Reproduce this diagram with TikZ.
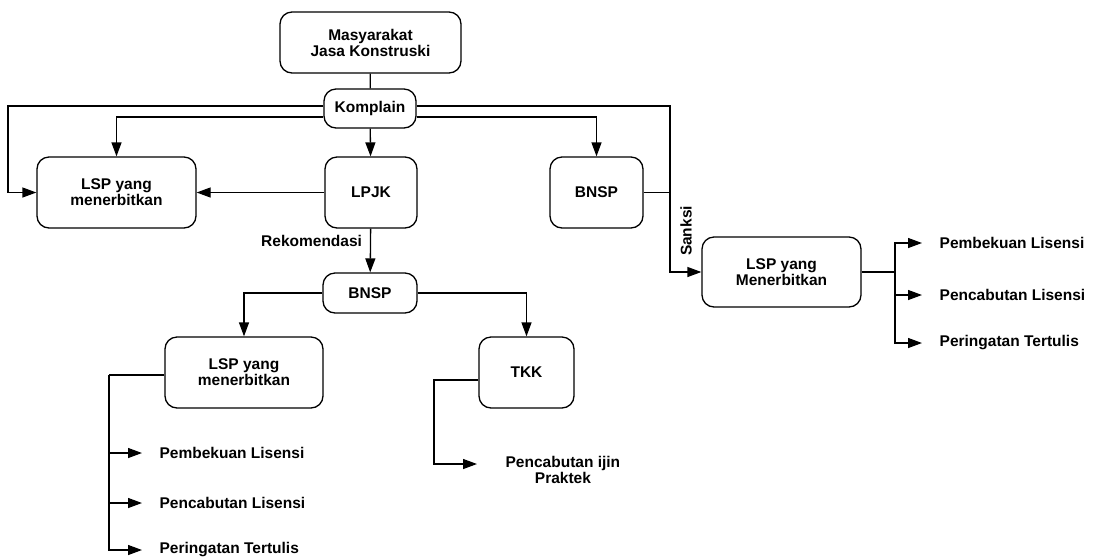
\documentclass[tikz,border=0pt]{standalone}
\usepackage{fontspec}
\setmainfont{Liberation Sans}
\usetikzlibrary{arrows.meta,positioning}

\begin{document}
\begin{tikzpicture}[x=1pt,y=-1pt,line width=1.3pt,
  >={Triangle[length=14pt,width=10pt]},
  font=\fontsize{15.5}{16}\selectfont\bfseries,
  box/.style={draw,rounded corners=12pt,align=center,inner sep=0pt},
  result/.style={anchor=west,inner xsep=17pt,inner ysep=0pt}]
  \useasboundingbox (0,0) rectangle (1097,558);
  \node[box,minimum width=181pt,minimum height=61pt] (mjk) at (370.5,42.5) {Masyarakat\\Jasa Konstruski};
  \node[box,minimum width=92pt,minimum height=39pt] (kom) at (370,108.5) {Komplain};
  \node[box,minimum width=159pt,minimum height=71pt] (lsp1) at (116.5,192.5) {LSP yang\\menerbitkan};
  \node[box,minimum width=92pt,minimum height=71pt] (lpjk) at (371,192.5) {LPJK};
  \node[box,minimum width=93pt,minimum height=71pt] (bnsp1) at (596.5,192.5) {BNSP};
  \node[box,minimum width=94pt,minimum height=40pt] (bnsp2) at (370,293) {BNSP};
  \node[box,minimum width=158pt,minimum height=71pt] (lsp3) at (244,372.5) {LSP yang\\menerbitkan};
  \node[box,minimum width=95pt,minimum height=71pt] (tkk) at (526.5,372.5) {TKK};
  \node[box,minimum width=159pt,minimum height=70pt] (lsp2) at (781.5,272) {LSP yang\\Menerbitkan};
  % labels
  \node[anchor=east] (rek) at (366,241) {Rekomendasi};
  \node[rotate=90] (sanksi) at (686,231) {Sanksi};
  \node[result] (pr1) at (922,243) {Pembekuan Lisensi};
  \node[result] (pr2) at (922,295) {Pencabutan Lisensi};
  \node[result] (pr3) at (922,343) {Peringatan Tertulis};
  \node[result] (bl1) at (142,453) {Pembekuan Lisensi};
  \node[result] (bl2) at (142,503) {Pencabutan Lisensi};
  \node[result] (bl3) at (142,550) {Peringatan Tertulis};
  \node[result,align=center,inner xsep=28pt] (ijin) at (477,470) {Pencabutan ijin\\Praktek};
  \coordinate (kl) at (8,192.5);
  \coordinate (sk) at (670,272);
  \coordinate (rb) at (895,272);
  \coordinate (lb) at (109,375);
  \coordinate (tk) at (434,464);
  % komplain
  \draw (mjk) -- (kom);
  \draw [->] ([yshift=2.5pt]kom.west) -| (kl) -- (lsp1.west);
  \draw [->] ([yshift=-8.5pt]kom.west) -| (lsp1.north);
  \draw [->] (kom) -- (lpjk);
  \draw [->] ([yshift=-8.5pt]kom.east) -| (bnsp1.north);
  \draw [->] ([yshift=2.5pt]kom.east) -| (sk) -- (lsp2.west);
  \draw (bnsp1.east) -- (bnsp1.east -| sk);
  \draw [->] (lpjk) -- (lsp1);
  \draw [->] (lpjk) -- (bnsp2);
  \draw [->] (bnsp2.west) -| (lsp3.north);
  \draw [->] (bnsp2.east) -| (tkk.north);
  % sanksi
  \draw (lsp2.east) -- (rb);
  \draw [->] (rb) |- (pr1.west);
  \draw [->] (rb |- pr2.west) -- (pr2.west);
  \draw [->] (rb) |- (pr3.west);
  \draw ([yshift=-2.5pt]lsp3.west) -- (lb);
  \draw [->] (lb) |- (bl1.west);
  \draw [->] (lb |- bl2.west) -- (bl2.west);
  \draw [->] (lb) |- (bl3.west);
  \draw [->] ([yshift=-7.5pt]tkk.west) -| (tk) -- ([yshift=6pt]ijin.west);
\end{tikzpicture}
\end{document}
